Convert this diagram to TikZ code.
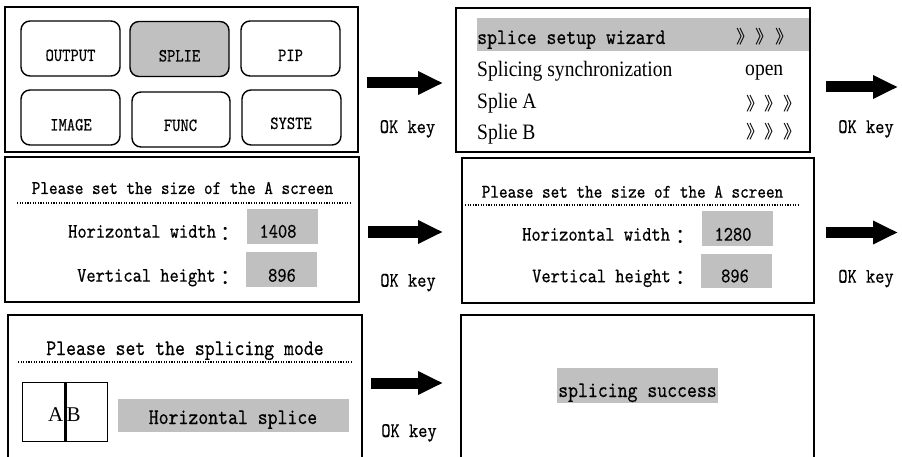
\documentclass[tikz,border=0pt]{standalone}
\usepackage{fontspec}
\usetikzlibrary{arrows.meta}
\newfontfamily\serf[FakeStretch=0.89]{Liberation Serif}
\newfontfamily\serfab{Liberation Serif}
\newfontfamily\cjk{Noto Sans CJK SC}
\newfontfamily\monof[FakeStretch=0.85,FakeBold=0.4]{lmmono10-regular.otf}
\definecolor{hl}{RGB}{192,192,192}
\newcommand\fsz[1]{\fontsize{#1}{#1}\selectfont}
\newcommand\fwcolon{\hspace{5pt}\raisebox{-2.5pt}{\cjk ：}}
\tikzset{
  screen/.style={draw=black, line width=1.5pt, inner sep=0},
  btn/.style={draw=black, line width=1.4pt, rounded corners=9pt, inner sep=0, minimum width=99pt, minimum height=55pt},
  graybox/.style={fill=hl, inner sep=0},
  txt/.style={inner sep=0, text=black},
  monoA/.style={txt, font=\monof\fsz{18.6}},
  monoB/.style={txt, font=\monof\fsz{19.3}},
  monoC/.style={txt, font=\monof\fsz{20.7}},
  monoD/.style={txt, font=\monof\fsz{22.2}},
  serifT/.style={txt, font=\serf\fsz{22}},
  chev/.style={txt, font=\cjk\fsz{18}},
  okarrow/.style={line width=11pt, -{Triangle[length=25pt,width=22pt]}},
  dotline/.style={line width=1.2pt, dash pattern=on 1.2pt off 1.4pt},
}
\begin{document}
\begin{tikzpicture}[x=1pt,y=-1pt]
\useasboundingbox (0,0) rectangle (902,457);
\fill[white] (0,0) rectangle (902,457);

% ---------- screen 1: main menu ----------
\node[screen, minimum width=353pt, minimum height=145pt] (s1) at (181.5,79.5) {};
\node[btn] (bout) at (70.5,48.5) {};
\node[btn, fill=hl] (bspl) at (179.5,49) {};
\node[btn] (bpip) at (290.5,48.5) {};
\node[btn] (bimg) at (70.5,117.5) {};
\node[btn, minimum width=98pt] (bfun) at (181,119.5) {};
\node[btn] (bsys) at (291.5,117.5) {};
\node[monoA, anchor=base] (tout) at (70.5,61) {OUTPUT};
\node[monoA, anchor=base] (tspl) at (179.5,61.5) {SPLIE};
\node[monoA, anchor=base] (tpip) at (290.5,61) {PIP};
\node[monoA, anchor=base] (timg) at (71,130.5) {IMAGE};
\node[monoA, anchor=base] (tfun) at (180.5,131) {FUNC};
\node[monoA, anchor=base] (tsys) at (291,129) {SYSTE};

% ---------- screen 2: splice menu ----------
\node[graybox, minimum width=332pt, minimum height=33pt] (hlrow) at (643,34.5) {};
\node[screen, minimum width=354pt, minimum height=144pt] (s2) at (633,80) {};
\node[monoD, anchor=base west] (wiz) at (477,44) {splice setup wizard};
\node[chev, anchor=west] (c1) at (736,36.5) {》\hspace{1.5pt}》\hspace{1.5pt}》};
\node[serifT, anchor=base west] (sync) at (477,77) {Splicing synchronization};
\node[serifT, anchor=base west] (open) at (745,76) {open};
\node[serifT, anchor=base west] (spa) at (477,109) {Splie A};
\node[chev, anchor=west] (c2) at (746,103.5) {》\hspace{0.5pt}》\hspace{0.5pt}》};
\node[serifT, anchor=base west] (spb) at (477,140) {Splie B};
\node[chev, anchor=west] (c3) at (746,131.5) {》\hspace{0.5pt}》\hspace{0.5pt}》};

% ---------- screen 3: A screen size 1408 ----------
\node[screen, minimum width=354pt, minimum height=145pt] (s3) at (182,229.5) {};
\node[monoB, anchor=base] (t3) at (182.5,194) {Please set the size of the A screen};
\coordinate (d3a) at (17,203); \coordinate (d3b) at (351,203);
\draw[dotline] (d3a) -- (d3b);
\node[monoC, anchor=base west] (hw3) at (68,237.7) {Horizontal width\fwcolon};
\node[graybox, minimum width=71pt, minimum height=35pt] (hv3) at (282.5,226.5) {};
\node[monoC, anchor=base] (hn3) at (278,237.7) {1408};
\node[monoC, anchor=base west] (vh3) at (77,281.7) {Vertical height\fwcolon};
\node[graybox, minimum width=71pt, minimum height=35pt] (vv3) at (281.5,269.5) {};
\node[monoC, anchor=base] (vn3) at (282,281.7) {896};

% ---------- screen 4: A screen size 1280 ----------
\node[screen, minimum width=352pt, minimum height=145pt] (s4) at (638,230.5) {};
\node[monoB, anchor=base] (t4) at (632.5,197.7) {Please set the size of the A screen};
\coordinate (d4a) at (465,205); \coordinate (d4b) at (798,205);
\draw[dotline] (d4a) -- (d4b);
\node[monoC, anchor=base west] (hw4) at (522,240.7) {Horizontal width\fwcolon};
\node[graybox, minimum width=71pt, minimum height=35pt] (hv4) at (737.5,228.5) {};
\node[monoC, anchor=base] (hn4) at (733,240.7) {1280};
\node[monoC, anchor=base west] (vh4) at (532,282.3) {Vertical height\fwcolon};
\node[graybox, minimum width=71pt, minimum height=34pt] (vv4) at (736.5,271) {};
\node[monoC, anchor=base] (vn4) at (735,282.3) {896};

% ---------- screen 5: splicing mode ----------
\coordinate (s5a) at (8,458); \coordinate (s5b) at (8,315);
\coordinate (s5c) at (362,315); \coordinate (s5d) at (362,458);
\draw[line width=1.5pt] (s5a) -- (s5b) -- (s5c) -- (s5d);
\node[monoD, anchor=base] (t5) at (185,355) {Please set the splicing mode};
\coordinate (d5a) at (18,362); \coordinate (d5b) at (352,362);
\draw[dotline] (d5a) -- (d5b);
\node[draw=black, line width=1pt, minimum width=85pt, minimum height=59pt, inner sep=0] (ab) at (65,411.5) {};
\draw[line width=3pt] (ab.north) -- (ab.south);
\node[txt, font=\serfab\fsz{21}, anchor=base east] (la) at (63.5,421.7) {A};
\node[txt, font=\serfab\fsz{21}, anchor=base west] (lb) at (66.5,421.7) {B};
\node[graybox, minimum width=231pt, minimum height=33pt] (hsp) at (233.5,415.5) {};
\node[monoD, anchor=base] (hst) at (233,424) {Horizontal splice};

% ---------- screen 6: success ----------
\coordinate (s6a) at (461,458); \coordinate (s6b) at (461,315);
\coordinate (s6c) at (814,315); \coordinate (s6d) at (814,458);
\draw[line width=1.5pt] (s6a) -- (s6b) -- (s6c) -- (s6d);
\node[graybox, minimum width=161pt, minimum height=35pt] (succ) at (637.5,385.5) {};
\node[monoD, anchor=base] (sct) at (637.5,397) {splicing success};

% ---------- arrows ----------
\coordinate (a1s) at (367,83);  \coordinate (a1e) at (443,83);
\coordinate (a2s) at (826,87);  \coordinate (a2e) at (898,87);
\coordinate (a3s) at (368,232); \coordinate (a3e) at (443,232);
\coordinate (a4s) at (826,232.5); \coordinate (a4e) at (898,232.5);
\coordinate (a5s) at (371,383); \coordinate (a5e) at (443,383);
\draw[okarrow] (a1s) -- (a1e);
\draw[okarrow] (a2s) -- (a2e);
\draw[okarrow] (a3s) -- (a3e);
\draw[okarrow] (a4s) -- (a4e);
\draw[okarrow] (a5s) -- (a5e);
\node[monoC, anchor=base] (ok1) at (407.5,133) {OK key};
\node[monoC, anchor=base] (ok2) at (866,133) {OK key};
\node[monoC, anchor=base] (ok3) at (408,286.7) {OK key};
\node[monoC, anchor=base] (ok4) at (866,282.7) {OK key};
\node[monoC, anchor=base] (ok5) at (409,437) {OK key};
\end{tikzpicture}
\end{document}
